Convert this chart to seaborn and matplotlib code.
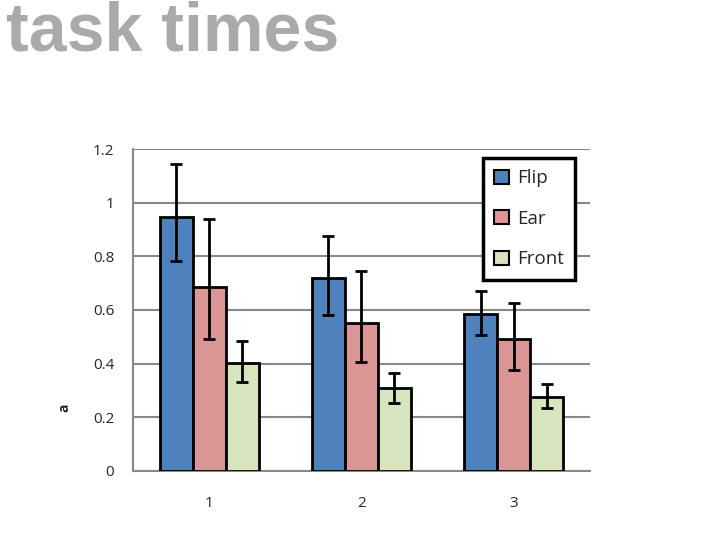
import pandas as pd
import matplotlib.pyplot as plt
import seaborn as sns
from matplotlib.patches import Patch

# ----------------------------------------
# Data
# ----------------------------------------
tasks = ["1", "2", "3"]
methods = ["Flip", "Ear", "Front"]
flip = [0.947, 0.719, 0.585]
ear = [0.686, 0.552, 0.492]
front = [0.402, 0.309, 0.276]
# error bar ends (low, high)
flip_low = [0.783, 0.581, 0.507]
flip_high = [1.144, 0.876, 0.671]
ear_low = [0.492, 0.406, 0.376]
ear_high = [0.939, 0.745, 0.626]
front_low = [0.332, 0.253, 0.235]
front_high = [0.485, 0.365, 0.324]

colors = ["#4F81BD", "#D99694", "#D7E4BD"]
ytick_vals = [0, 0.2, 0.4, 0.6, 0.8, 1.0, 1.2]
ytick_labels = ["0", "0.2", "0.4", "0.6", "0.8", "1", "1.2"]

df = pd.DataFrame({
    "task": tasks * 3,
    "method": [m for m in methods for _ in tasks],
    "time": flip + ear + front,
})
lows = [flip_low, ear_low, front_low]
highs = [flip_high, ear_high, front_high]
means = [flip, ear, front]

# ----------------------------------------
# Plot
# ----------------------------------------
sns.set_style("white")
plt.rcParams["font.family"] = ["Open Sans", "DejaVu Sans"]

fig = plt.figure(figsize=(7.28, 5.46), dpi=100)
ax = fig.add_axes([0.1827, 0.1374, 0.6277, 0.5897])

sns.barplot(data=df, x="task", y="time", hue="method", order=tasks,
            hue_order=methods, palette=colors, saturation=1, width=0.65,
            gap=0, errorbar=None, edgecolor="black", linewidth=2,
            legend=False, ax=ax, zorder=3)

# error bars on top of each bar container
for cont, m, lo, hi in zip(ax.containers, means, lows, highs):
    xs = [p.get_x() + p.get_width() / 2 for p in cont.patches]
    yerr = [[v - l for v, l in zip(m, lo)], [h - v for v, h in zip(m, hi)]]
    ax.errorbar(xs, m, yerr=yerr, fmt="none", ecolor="black",
                elinewidth=2, capsize=4, capthick=2, zorder=4)

ax.set_ylim(0, 1.2)
ax.set_xlim(-0.5, 2.5)
ax.set_yticks(ytick_vals)
ax.set_yticklabels(ytick_labels)
ax.set_xticks([0, 1, 2])
ax.set_xticks([-0.5, 0.5, 1.5, 2.5], minor=True)
ax.tick_params(axis="x", which="major", length=0, pad=18, labelsize=11)
ax.tick_params(axis="x", which="minor", length=6, width=1.5, color="#888888",
               direction="out")
ax.tick_params(axis="y", length=6.5, width=1.5, color="#888888",
               direction="out", labelsize=11, pad=7)
ax.yaxis.grid(True, color="#888888", linewidth=1.5, zorder=0)
ax.set_axisbelow(True)
for side in ["top", "right"]:
    ax.spines[side].set_visible(False)
for side in ["left", "bottom"]:
    ax.spines[side].set_color("#888888")
    ax.spines[side].set_linewidth(1.5)

ax.set_xlabel("")
ax.set_ylabel("a", fontsize=10, fontweight="bold")
ax.yaxis.set_label_coords(-0.135, 0.195)

handles = [Patch(facecolor=c, edgecolor="black", linewidth=1.5) for c in colors]
leg = ax.legend(handles, methods, loc="upper right",
                bbox_to_anchor=(0.967, 0.972), borderaxespad=0,
                handlelength=0.8, handleheight=0.8, handletextpad=0.4,
                labelspacing=1.2, fontsize=13.5, fancybox=False,
                framealpha=1, borderpad=0.6)
leg.get_frame().set_edgecolor("black")
leg.get_frame().set_linewidth(2.5)

fig.text(0.008, 0.908, "task times", fontsize=49, fontweight="bold",
         color="#AAAAAA", family=["Liberation Sans", "DejaVu Sans"],
         va="baseline", ha="left")

fig.savefig("out.png", dpi=100)
